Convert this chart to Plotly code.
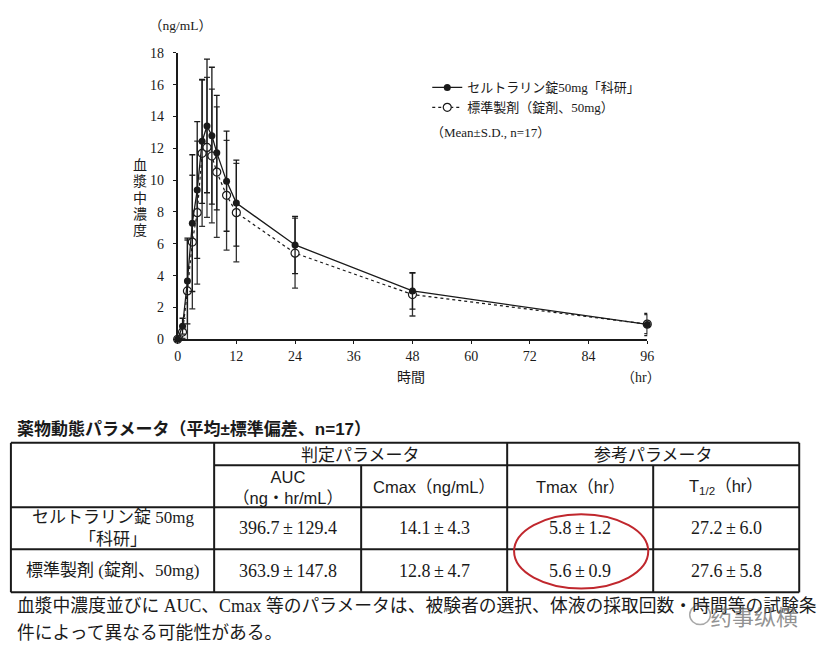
import plotly.graph_objects as go

# ---------------- data ----------------
time_hr = [0, 1, 2, 3, 4, 5, 6, 7, 8, 10, 12, 24, 48, 96]
test_mean = [0, 0.82, 3.66, 7.30, 9.38, 12.44, 13.41, 12.80, 11.73, 9.94, 8.56, 5.93, 3.04, 0.93]
test_sd = [0, 0.5, 2.7, 4.3, 4.3, 3.9, 4.2, 4.3, 3.6, 3.15, 2.7, 1.8, 1.15, 0.7]
ref_mean = [0, 0.45, 3.04, 6.11, 7.96, 11.69, 12.06, 11.52, 10.51, 9.05, 7.96, 5.41, 2.81, 0.95]
ref_sd = [0, 0.4, 3.2, 4.2, 4.5, 4.6, 4.4, 4.2, 4.1, 3.45, 3.1, 2.2, 1.35, 0.6]

test_name = "セルトラリン錠50mg「科研」"
ref_name = "標準製剤（錠剤、50mg）"
x_ticks = [0, 12, 24, 36, 48, 60, 72, 84, 96]
y_ticks = [0, 2, 4, 6, 8, 10, 12, 14, 16, 18]

table_title = "薬物動態パラメータ（平均±標準偏差、n=17）"
group_headers = ["判定パラメータ", "参考パラメータ"]
col_headers = ["AUC<br>（ng・hr/mL）", "Cmax（ng/mL）", "Tmax（hr）", "T<sub>1/2</sub>（hr）"]
row_labels = ["セルトラリン錠 50mg<br>「科研」", "標準製剤 (錠剤、50mg)"]
cells = [
    ["396.7\u2009±\u2009129.4", "14.1\u2009±\u20094.3", "5.8\u2009±\u20091.2", "27.2\u2009±\u20096.0"],
    ["363.9\u2009±\u2009147.8", "12.8\u2009±\u20094.7", "5.6\u2009±\u20090.9", "27.6\u2009±\u20095.8"],
]
note_lines = [
    "血漿中濃度並びに AUC、Cmax 等のパラメータは、被験者の選択、体液の採取回数・時間等の試験条",
    "件によって異なる可能性がある。",
]

# ---------------- helpers ----------------
W, H = 822, 657
def px(x):
    return x / W
def py(y):
    return 1 - y / H

SERIF = "Liberation Serif, Noto Sans CJK JP"
SANS = "Liberation Sans, Noto Sans CJK JP"
INK = "#1a1a1a"

fig = go.Figure()

fig.add_trace(go.Scatter(
    x=time_hr, y=ref_mean, name=ref_name, legendrank=2,
    mode="lines+markers", cliponaxis=False,
    line=dict(color=INK, width=1.2, dash="dot"),
    marker=dict(symbol="circle", size=8, color="white", line=dict(color=INK, width=1.2)),
    error_y=dict(type="data", array=ref_sd, color="#333", thickness=1.3, width=3),
))
fig.add_trace(go.Scatter(
    x=time_hr, y=test_mean, name=test_name, legendrank=1,
    mode="lines+markers", cliponaxis=False,
    line=dict(color=INK, width=1.3),
    marker=dict(symbol="circle", size=7, color=INK),
    error_y=dict(type="data", array=test_sd, color=INK, thickness=1.3, width=3),
))

annotations = []
shapes = []

def txt(x, y, s, size, family=SERIF, xanchor="center", color=INK, **kw):
    annotations.append(dict(x=px(x), y=py(y), xref="paper", yref="paper", text=s,
                            showarrow=False, xanchor=xanchor, yanchor="middle",
                            font=dict(size=size, family=family, color=color), **kw))

# chart labels
txt(145, 19, "（ng/mL）", 13.5, xanchor="left")
for i, ch in enumerate("血漿中濃度"):
    txt(138, 162 + i * 16.8, ch, 14)
txt(413, 379, "時間", 14)
txt(646, 379, "（hr）", 14)
txt(431, 128, "（Mean±S.D., n=17）", 13, xanchor="left")

# table title
txt(11, 432, "<b>" + table_title + "</b>", 17, family=SANS, xanchor="left")

# table grid
L, C1, C2, C3, C4, R = 7, 213, 362, 510, 658, 806
T, RH1, RH2, RD, B = 446, 469, 512, 555, 599
def hline(x0, x1, y):
    shapes.append(dict(type="line", xref="paper", yref="paper", x0=px(x0), x1=px(x1),
                       y0=py(y), y1=py(y), line=dict(color=INK, width=2)))
def vline(x, y0, y1):
    shapes.append(dict(type="line", xref="paper", yref="paper", x0=px(x), x1=px(x),
                       y0=py(y0), y1=py(y1), line=dict(color=INK, width=2)))
hline(L, R, T)
hline(C1, R, RH1)
hline(L, R, RH2)
hline(L, R, RD)
hline(L, R, B)
vline(L, T, B)
vline(C1, T, B)
vline(C2, RH1, B)
vline(C3, T, B)
vline(C4, RH1, B)
vline(R, T, B)

txt((C1 + C3) / 2, (T + RH1) / 2 + 1, group_headers[0], 17, family=SANS)
txt((C3 + R) / 2, (T + RH1) / 2 + 1, group_headers[1], 17, family=SANS)
col_edges = [C1, C2, C3, C4, R]
for j, h in enumerate(col_headers):
    txt((col_edges[j] + col_edges[j + 1]) / 2, (RH1 + RH2) / 2 + 1, h, 16.5, family=SANS)
row_edges = [RH2, RD, B]
for i, lab in enumerate(row_labels):
    yc = (row_edges[i] + row_edges[i + 1]) / 2
    txt((L + C1) / 2, yc, lab, 17)
    for j, v in enumerate(cells[i]):
        txt((col_edges[j] + col_edges[j + 1]) / 2, yc, v, 18)

# red ellipse around Tmax
shapes.append(dict(type="circle", xref="paper", yref="paper", x0=px(517), x1=px(653),
                   y0=py(595), y1=py(519), line=dict(color="#c0272d", width=2)))

# note text
txt(11, 613, note_lines[0], 17.8, xanchor="left")
txt(11, 641, note_lines[1], 17.8, xanchor="left")

# watermark
annotations.append(dict(x=px(760), y=py(622), xref="paper", yref="paper", text="药事纵横",
                        showarrow=False, xanchor="center", yanchor="middle",
                        font=dict(size=22, family="Noto Sans CJK SC", color="rgba(110,110,110,0.75)")))
shapes.append(dict(type="circle", xref="paper", yref="paper", x0=px(695), x1=px(716),
                   y0=py(632), y1=py(612), line=dict(color="rgba(110,110,110,0.6)", width=1.5)))

fig.update_layout(
    width=W, height=H,
    margin=dict(l=0, r=0, t=0, b=0),
    paper_bgcolor="white", plot_bgcolor="white",
    showlegend=True,
    legend=dict(x=px(429), y=py(67), xanchor="left", yanchor="top",
                font=dict(size=13, family=SERIF, color=INK), bgcolor="rgba(0,0,0,0)",
                itemwidth=30, tracegroupgap=0),
    xaxis=dict(domain=[px(176), px(652)], range=[0, 96], tickvals=x_ticks,
               showline=True, linecolor=INK, linewidth=1.5, ticks="outside", ticklen=3,
               tickcolor=INK, showgrid=False, zeroline=False,
               tickfont=dict(size=14, family=SERIF, color=INK)),
    yaxis=dict(domain=[py(340), py(47)], range=[0, 18], tickvals=y_ticks,
               showline=True, linecolor=INK, linewidth=1.5, ticks="outside", ticklen=3,
               tickcolor=INK, showgrid=False, zeroline=False, ticklabelstandoff=6,
               tickfont=dict(size=14, family=SERIF, color=INK)),
    annotations=annotations,
    shapes=shapes,
)

fig.write_html("out.html")
